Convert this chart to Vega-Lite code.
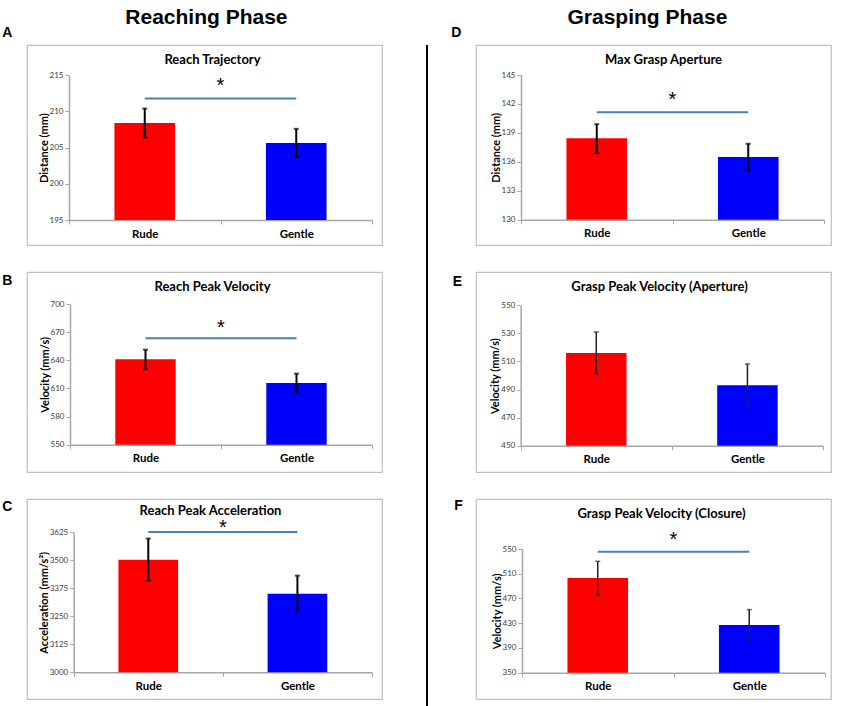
{
"$schema": "https://vega.github.io/schema/vega-lite/v6.json",
"padding": {"left": 2, "top": 6, "right": 5, "bottom": 0},
"spacing": 43,
"hconcat": [
{
"title": {"text": "Reaching Phase", "font": "Liberation Sans", "fontSize": 21, "fontWeight": "bold", "anchor": "middle", "dx": 14, "offset": -1.5},
"spacing": 25,
"vconcat": [
{
"title": {"text": "A", "orient": "left", "anchor": "end", "angle": 0, "align": "right", "baseline": "top", "offset": 4, "dy": -18, "font": "Liberation Sans", "fontSize": 14, "fontWeight": "bold", "color": "black"},
"hconcat": [{
"width": 355, "height": 200,
"view": {"stroke": "#bfbfbf", "strokeWidth": 1.2},
"title": {"text": "Reach Trajectory", "offset": -22, "dx": 8},
"data": {"values": [
{"cond": "Rude", "mean": 208.4, "lo": 206.4, "hi": 210.4},
{"cond": "Gentle", "mean": 205.65, "lo": 203.7, "hi": 207.6}
]},
"encoding": {"x": {"field": "cond", "type": "nominal", "title": null, "scale": {"domain": ["Rude", "Gentle"], "range": [42, 345], "paddingInner": 0, "paddingOuter": 0}, "axis": {"offset": -25}}},
"layer": [
{"mark": {"type": "bar", "width": {"band": 0.4}}, "encoding": {"y": {"field": "mean", "type": "quantitative", "title": "Distance (mm)", "scale": {"domain": [195, 215], "range": [175, 30.3], "nice": false, "zero": false}, "axis": {"offset": -42, "values": [195, 200, 205, 210, 215], "tickCount": 20, "format": "d", "labelOverlap": false, "labelFlush": false}}, "y2": {"datum": 195}, "color": {"field": "cond", "type": "nominal", "scale": {"domain": ["Rude", "Gentle"], "range": ["#ff0000", "#0000ff"]}, "legend": null}}},
{"mark": {"type": "rule", "color": "black", "strokeWidth": 2}, "encoding": {"y": {"field": "lo", "type": "quantitative", "title": "Distance (mm)"}, "y2": {"field": "hi"}}},
{"mark": {"type": "tick", "color": "black", "thickness": 2, "size": 5}, "encoding": {"y": {"field": "lo", "type": "quantitative", "title": "Distance (mm)"}}},
{"mark": {"type": "tick", "color": "black", "thickness": 2, "size": 5}, "encoding": {"y": {"field": "hi", "type": "quantitative", "title": "Distance (mm)"}}},
{"data": {"values": [{"from": "Rude", "to": "Gentle", "line": 211.8, "star": 213.9}]}, "mark": {"type": "rule", "color": "#4a7ebb", "strokeWidth": 2}, "encoding": {"x": {"field": "from", "type": "nominal", "title": null}, "x2": {"field": "to"}, "y": {"field": "line", "type": "quantitative", "title": "Distance (mm)"}}},
{"data": {"values": [{"from": "Rude", "to": "Gentle", "line": 211.8, "star": 213.9}]}, "mark": {"type": "text", "text": "*", "font": "Liberation Sans", "fontSize": 20, "baseline": "middle", "dy": 3}, "encoding": {"x": {"field": "to", "type": "nominal", "bandPosition": 0, "title": null}, "y": {"field": "star", "type": "quantitative", "title": "Distance (mm)"}}}
]
}]
},
{
"title": {"text": "B", "orient": "left", "anchor": "end", "angle": 0, "align": "right", "baseline": "top", "offset": 4, "dy": 3, "font": "Liberation Sans", "fontSize": 14, "fontWeight": "bold", "color": "black"},
"hconcat": [{
"width": 355, "height": 200,
"view": {"stroke": "#bfbfbf", "strokeWidth": 1.2},
"title": {"text": "Reach Peak Velocity", "offset": -22, "dx": 8},
"data": {"values": [
{"cond": "Rude", "mean": 641, "lo": 630.7, "hi": 651.3},
{"cond": "Gentle", "mean": 615.7, "lo": 606.5, "hi": 625.7}
]},
"encoding": {"x": {"field": "cond", "type": "nominal", "title": null, "scale": {"domain": ["Rude", "Gentle"], "range": [43, 345], "paddingInner": 0, "paddingOuter": 0}, "axis": {"offset": -27.3}}},
"layer": [
{"mark": {"type": "bar", "width": {"band": 0.4}}, "encoding": {"y": {"field": "mean", "type": "quantitative", "title": "Velocity (mm/s)", "scale": {"domain": [550, 700], "range": [172.7, 32], "nice": false, "zero": false}, "axis": {"offset": -43, "values": [550, 580, 610, 640, 670, 700], "tickCount": 20, "format": "d", "labelOverlap": false, "labelFlush": false}}, "y2": {"datum": 550}, "color": {"field": "cond", "type": "nominal", "scale": {"domain": ["Rude", "Gentle"], "range": ["#ff0000", "#0000ff"]}, "legend": null}}},
{"mark": {"type": "rule", "color": "black", "strokeWidth": 2}, "encoding": {"y": {"field": "lo", "type": "quantitative", "title": "Velocity (mm/s)"}, "y2": {"field": "hi"}}},
{"mark": {"type": "tick", "color": "black", "thickness": 2, "size": 5}, "encoding": {"y": {"field": "lo", "type": "quantitative", "title": "Velocity (mm/s)"}}},
{"mark": {"type": "tick", "color": "black", "thickness": 2, "size": 5}, "encoding": {"y": {"field": "hi", "type": "quantitative", "title": "Velocity (mm/s)"}}},
{"data": {"values": [{"from": "Rude", "to": "Gentle", "line": 663.4, "star": 678}]}, "mark": {"type": "rule", "color": "#4a7ebb", "strokeWidth": 2}, "encoding": {"x": {"field": "from", "type": "nominal", "title": null}, "x2": {"field": "to"}, "y": {"field": "line", "type": "quantitative", "title": "Velocity (mm/s)"}}},
{"data": {"values": [{"from": "Rude", "to": "Gentle", "line": 663.4, "star": 678}]}, "mark": {"type": "text", "text": "*", "font": "Liberation Sans", "fontSize": 20, "baseline": "middle", "dy": 3}, "encoding": {"x": {"field": "to", "type": "nominal", "bandPosition": 0, "title": null}, "y": {"field": "star", "type": "quantitative", "title": "Velocity (mm/s)"}}}
]
}]
},
{
"title": {"text": "C", "orient": "left", "anchor": "end", "angle": 0, "align": "right", "baseline": "top", "offset": 4, "dy": 2, "font": "Liberation Sans", "fontSize": 14, "fontWeight": "bold", "color": "black"},
"hconcat": [{
"width": 355, "height": 200,
"view": {"stroke": "#bfbfbf", "strokeWidth": 1.2},
"title": {"text": "Reach Peak Acceleration", "offset": -19, "dx": 6},
"data": {"values": [
{"cond": "Rude", "mean": 3503, "lo": 3409, "hi": 3597},
{"cond": "Gentle", "mean": 3351, "lo": 3272, "hi": 3431.5}
]},
"encoding": {"x": {"field": "cond", "type": "nominal", "title": null, "scale": {"domain": ["Rude", "Gentle"], "range": [46.7, 345], "paddingInner": 0, "paddingOuter": 0}, "axis": {"offset": -26.7}}},
"layer": [
{"mark": {"type": "bar", "width": {"band": 0.4}}, "encoding": {"y": {"field": "mean", "type": "quantitative", "title": "Acceleration (mm/s²)", "scale": {"domain": [3000, 3625], "range": [173.3, 33.3], "nice": false, "zero": false}, "axis": {"offset": -46.7, "values": [3000, 3125, 3250, 3375, 3500, 3625], "tickCount": 20, "format": "d", "labelOverlap": false, "labelFlush": false}}, "y2": {"datum": 3000}, "color": {"field": "cond", "type": "nominal", "scale": {"domain": ["Rude", "Gentle"], "range": ["#ff0000", "#0000ff"]}, "legend": null}}},
{"mark": {"type": "rule", "color": "black", "strokeWidth": 2}, "encoding": {"y": {"field": "lo", "type": "quantitative", "title": "Acceleration (mm/s²)"}, "y2": {"field": "hi"}}},
{"mark": {"type": "tick", "color": "black", "thickness": 2, "size": 5}, "encoding": {"y": {"field": "lo", "type": "quantitative", "title": "Acceleration (mm/s²)"}}},
{"mark": {"type": "tick", "color": "black", "thickness": 2, "size": 5}, "encoding": {"y": {"field": "hi", "type": "quantitative", "title": "Acceleration (mm/s²)"}}},
{"data": {"values": [{"from": "Rude", "to": "Gentle", "line": 3626, "star": 3660}]}, "mark": {"type": "rule", "color": "#4a7ebb", "strokeWidth": 2}, "encoding": {"x": {"field": "from", "type": "nominal", "title": null}, "x2": {"field": "to"}, "y": {"field": "line", "type": "quantitative", "title": "Acceleration (mm/s²)"}}},
{"data": {"values": [{"from": "Rude", "to": "Gentle", "line": 3626, "star": 3660}]}, "mark": {"type": "text", "text": "*", "font": "Liberation Sans", "fontSize": 20, "baseline": "middle", "dy": 4}, "encoding": {"x": {"field": "to", "type": "nominal", "bandPosition": 0, "title": null}, "y": {"field": "star", "type": "quantitative", "title": "Acceleration (mm/s²)"}}}
]
}]
}
]
},
{
"spacing": 23,
"hconcat": [
{
"width": 2, "height": 696,
"view": {"stroke": null},
"data": {"values": [{}]},
"mark": {"type": "rule", "color": "black", "strokeWidth": 2},
"encoding": {"x": {"datum": 0.5, "type": "quantitative", "scale": {"domain": [0, 1]}, "axis": null}}
},
{
"title": {"text": "Grasping Phase", "font": "Liberation Sans", "fontSize": 21, "fontWeight": "bold", "anchor": "middle", "dx": 6, "offset": -1.5},
"spacing": 25,
"vconcat": [
{
"title": {"text": "D", "orient": "left", "anchor": "end", "angle": 0, "align": "right", "baseline": "top", "offset": 4, "dy": -18, "font": "Liberation Sans", "fontSize": 14, "fontWeight": "bold", "color": "black"},
"hconcat": [{
"width": 355, "height": 200,
"view": {"stroke": "#bfbfbf", "strokeWidth": 1.2},
"title": {"text": "Max Grasp Aperture", "offset": -22, "dx": 10},
"data": {"values": [
{"cond": "Rude", "mean": 138.44, "lo": 136.9, "hi": 139.9},
{"cond": "Gentle", "mean": 136.49, "lo": 135.1, "hi": 137.87}
]},
"encoding": {"x": {"field": "cond", "type": "nominal", "title": null, "scale": {"domain": ["Rude", "Gentle"], "range": [45, 348], "paddingInner": 0, "paddingOuter": 0}, "axis": {"offset": -25.3}}},
"layer": [
{"mark": {"type": "bar", "width": {"band": 0.4}}, "encoding": {"y": {"field": "mean", "type": "quantitative", "title": "Distance (mm)", "scale": {"domain": [130, 145], "range": [174.7, 30], "nice": false, "zero": false}, "axis": {"offset": -45, "values": [130, 133, 136, 139, 142, 145], "tickCount": 20, "format": "d", "labelOverlap": false, "labelFlush": false}}, "y2": {"datum": 130}, "color": {"field": "cond", "type": "nominal", "scale": {"domain": ["Rude", "Gentle"], "range": ["#ff0000", "#0000ff"]}, "legend": null}}},
{"mark": {"type": "rule", "color": "black", "strokeWidth": 2}, "encoding": {"y": {"field": "lo", "type": "quantitative", "title": "Distance (mm)"}, "y2": {"field": "hi"}}},
{"mark": {"type": "tick", "color": "black", "thickness": 2, "size": 5}, "encoding": {"y": {"field": "lo", "type": "quantitative", "title": "Distance (mm)"}}},
{"mark": {"type": "tick", "color": "black", "thickness": 2, "size": 5}, "encoding": {"y": {"field": "hi", "type": "quantitative", "title": "Distance (mm)"}}},
{"data": {"values": [{"from": "Rude", "to": "Gentle", "line": 141.13, "star": 142.7}]}, "mark": {"type": "rule", "color": "#4a7ebb", "strokeWidth": 2}, "encoding": {"x": {"field": "from", "type": "nominal", "title": null}, "x2": {"field": "to"}, "y": {"field": "line", "type": "quantitative", "title": "Distance (mm)"}}},
{"data": {"values": [{"from": "Rude", "to": "Gentle", "line": 141.13, "star": 142.7}]}, "mark": {"type": "text", "text": "*", "font": "Liberation Sans", "fontSize": 20, "baseline": "middle", "dy": 3}, "encoding": {"x": {"field": "to", "type": "nominal", "bandPosition": 0, "title": null}, "y": {"field": "star", "type": "quantitative", "title": "Distance (mm)"}}}
]
}]
},
{
"title": {"text": "E", "orient": "left", "anchor": "end", "angle": 0, "align": "right", "baseline": "top", "offset": 4, "dy": 4, "font": "Liberation Sans", "fontSize": 14, "fontWeight": "bold", "color": "black"},
"hconcat": [{
"width": 355, "height": 200,
"view": {"stroke": "#bfbfbf", "strokeWidth": 1.2},
"title": {"text": "Grasp Peak Velocity (Aperture)", "offset": -22, "dx": 6},
"data": {"values": [
{"cond": "Rude", "mean": 516, "lo": 501.3, "hi": 531},
{"cond": "Gentle", "mean": 493, "lo": 478.5, "hi": 508.2}
]},
"encoding": {"x": {"field": "cond", "type": "nominal", "title": null, "scale": {"domain": ["Rude", "Gentle"], "range": [44.7, 347], "paddingInner": 0, "paddingOuter": 0}, "axis": {"offset": -26.3}}},
"layer": [
{"mark": {"type": "bar", "width": {"band": 0.4}}, "encoding": {"y": {"field": "mean", "type": "quantitative", "title": "Velocity (mm/s)", "scale": {"domain": [450, 550], "range": [173.7, 33.3], "nice": false, "zero": false}, "axis": {"offset": -44.7, "values": [450, 470, 490, 510, 530, 550], "tickCount": 20, "format": "d", "labelOverlap": false, "labelFlush": false}}, "y2": {"datum": 450}, "color": {"field": "cond", "type": "nominal", "scale": {"domain": ["Rude", "Gentle"], "range": ["#ff0000", "#0000ff"]}, "legend": null}}},
{"mark": {"type": "rule", "color": "#222222", "strokeWidth": 1.5}, "encoding": {"y": {"field": "lo", "type": "quantitative", "title": "Velocity (mm/s)"}, "y2": {"field": "hi"}}},
{"mark": {"type": "tick", "color": "#222222", "thickness": 1.5, "size": 5}, "encoding": {"y": {"field": "lo", "type": "quantitative", "title": "Velocity (mm/s)"}}},
{"mark": {"type": "tick", "color": "#222222", "thickness": 1.5, "size": 5}, "encoding": {"y": {"field": "hi", "type": "quantitative", "title": "Velocity (mm/s)"}}}
]
}]
},
{
"title": {"text": "F", "orient": "left", "anchor": "end", "angle": 0, "align": "right", "baseline": "top", "offset": 4, "dy": 1, "font": "Liberation Sans", "fontSize": 14, "fontWeight": "bold", "color": "black"},
"hconcat": [{
"width": 355, "height": 200,
"view": {"stroke": "#bfbfbf", "strokeWidth": 1.2},
"title": {"text": "Grasp Peak Velocity (Closure)", "offset": -22, "dx": 8},
"data": {"values": [
{"cond": "Rude", "mean": 503.1, "lo": 475.6, "hi": 530},
{"cond": "Gentle", "mean": 427.1, "lo": 403, "hi": 452}
]},
"encoding": {"x": {"field": "cond", "type": "nominal", "title": null, "scale": {"domain": ["Rude", "Gentle"], "range": [46, 349], "paddingInner": 0, "paddingOuter": 0}, "axis": {"offset": -26.3}}},
"layer": [
{"mark": {"type": "bar", "width": {"band": 0.4}}, "encoding": {"y": {"field": "mean", "type": "quantitative", "title": "Velocity (mm/s)", "scale": {"domain": [350, 550], "range": [173.7, 50], "nice": false, "zero": false}, "axis": {"offset": -46, "values": [350, 390, 430, 470, 510, 550], "tickCount": 20, "format": "d", "labelOverlap": false, "labelFlush": false}}, "y2": {"datum": 350}, "color": {"field": "cond", "type": "nominal", "scale": {"domain": ["Rude", "Gentle"], "range": ["#ff0000", "#0000ff"]}, "legend": null}}},
{"mark": {"type": "rule", "color": "#222222", "strokeWidth": 1.5}, "encoding": {"y": {"field": "lo", "type": "quantitative", "title": "Velocity (mm/s)"}, "y2": {"field": "hi"}}},
{"mark": {"type": "tick", "color": "#222222", "thickness": 1.5, "size": 5}, "encoding": {"y": {"field": "lo", "type": "quantitative", "title": "Velocity (mm/s)"}}},
{"mark": {"type": "tick", "color": "#222222", "thickness": 1.5, "size": 5}, "encoding": {"y": {"field": "hi", "type": "quantitative", "title": "Velocity (mm/s)"}}},
{"data": {"values": [{"from": "Rude", "to": "Gentle", "line": 545.7, "star": 568.9}]}, "mark": {"type": "rule", "color": "#4a7ebb", "strokeWidth": 2}, "encoding": {"x": {"field": "from", "type": "nominal", "title": null}, "x2": {"field": "to"}, "y": {"field": "line", "type": "quantitative", "title": "Velocity (mm/s)"}}},
{"data": {"values": [{"from": "Rude", "to": "Gentle", "line": 545.7, "star": 568.9}]}, "mark": {"type": "text", "text": "*", "font": "Liberation Sans", "fontSize": 20, "baseline": "middle", "dy": 3}, "encoding": {"x": {"field": "to", "type": "nominal", "bandPosition": 0, "title": null}, "y": {"field": "star", "type": "quantitative", "title": "Velocity (mm/s)"}}}
]
}]
}
]
}
]
}
],
"config": {
"view": {"stroke": null},
"font": "Lato",
"title": {"font": "Lato", "fontSize": 13, "fontWeight": "bold", "color": "black", "anchor": "middle"},
"axis": {"grid": false, "domainColor": "#a6a6a6", "domainWidth": 1.5, "tickColor": "#a6a6a6", "tickSize": 4, "tickWidth": 1, "labelFont": "Lato", "titleFont": "Lato", "titleFontWeight": "bold", "titleColor": "black", "labelOverlap": false},
"axisX": {"labelFontSize": 11.5, "labelFontWeight": "bold", "labelColor": "black", "labelAngle": 0, "labelPadding": 4, "tickBand": "extent"},
"axisY": {"labelFontSize": 8, "labelColor": "#404040", "labelPadding": 2, "titleFontSize": 11, "titlePadding": 0}
}
}
